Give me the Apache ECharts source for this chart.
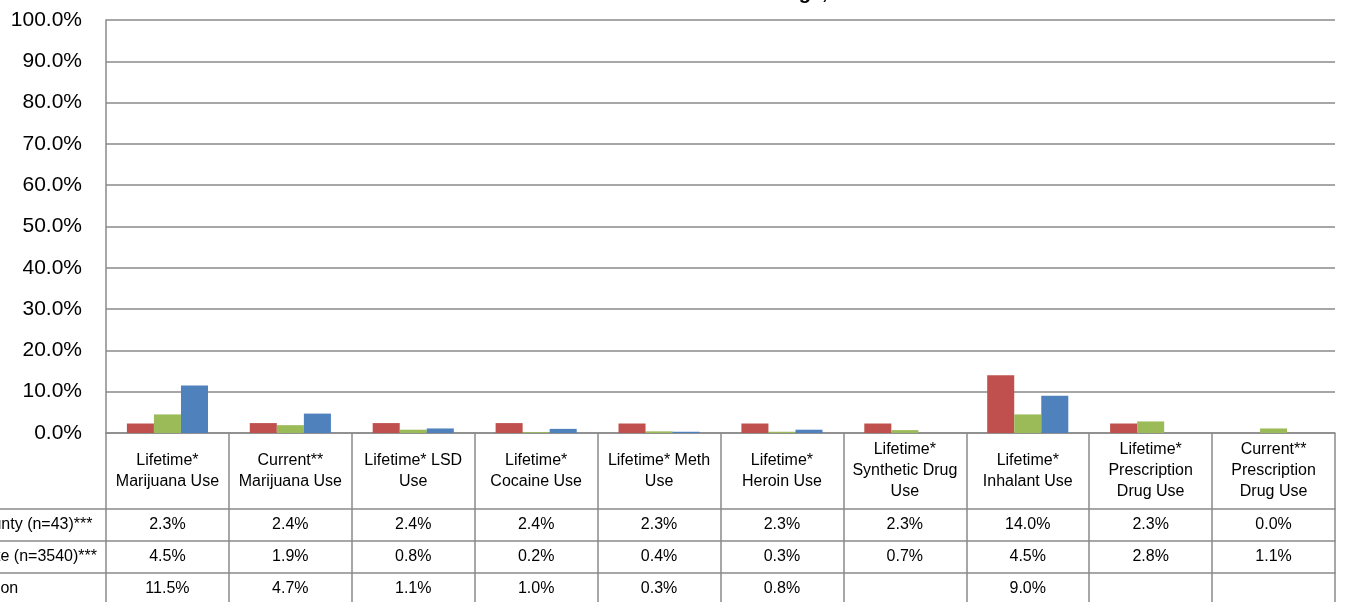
<!DOCTYPE html>
<html>
<head>
<meta charset="utf-8">
<script src="https://cdn.jsdelivr.net/npm/echarts@6/dist/echarts.min.js"></script>
<style>
html,body{margin:0;padding:0;background:#fff;}
#chart{width:1351px;height:602px;}
</style>
</head>
<body>
<div id="chart"></div>
<script>
const categories = [
  "Lifetime*\nMarijuana Use",
  "Current**\nMarijuana Use",
  "Lifetime* LSD\nUse",
  "Lifetime*\nCocaine Use",
  "Lifetime* Meth\nUse",
  "Lifetime*\nHeroin Use",
  "Lifetime*\nSynthetic Drug\nUse",
  "Lifetime*\nInhalant Use",
  "Lifetime*\nPrescription\nDrug Use",
  "Current**\nPrescription\nDrug Use"
];
const seriesNames = ["County (n=43)***", "State (n=3540)***", "Nation"];
const countyValues = [2.3, 2.4, 2.4, 2.4, 2.3, 2.3, 2.3, 14.0, 2.3, 0.0];
const stateValues  = [4.5, 1.9, 0.8, 0.2, 0.4, 0.3, 0.7, 4.5, 2.8, 1.1];
const nationValues = [11.5, 4.7, 1.1, 1.0, 0.3, 0.8, null, 9.0, null, null];
const seriesColors = ["#C0504D", "#9BBB59", "#4F81BD"];
const titleLeft = "Lifetime and Current Use of Drug";
const titleRight = "s, State and Nation";

const rows = [countyValues, stateValues, nationValues];
const FONT = "'Liberation Sans', Arial, sans-serif";
const lineColor = "#8a8a8a";
const lw = 1.5;
const gridLeft = 106, gridRight = 16, gridTop = 20, gridBottom = 169;
const headerH = 76, rowH = 32;
const W = 1351, H = 602;

const chart = echarts.init(document.getElementById('chart'), null, {renderer: 'canvas'});

function fmt(v) { return (v === null || v === undefined) ? '' : v.toFixed(1) + '%'; }

const baseX = {
  type: 'category', data: categories, gridIndex: 0, position: 'bottom',
  axisLine: {show: true, onZero: false, lineStyle: {color: lineColor, width: lw}},
  splitLine: {show: false}
};

const xAxes = [Object.assign({}, baseX, {
  axisTick: {show: true, interval: 0, length: headerH, lineStyle: {color: lineColor, width: lw}},
  axisLabel: {interval: 0, margin: headerH / 2, verticalAlign: 'middle', lineHeight: 21,
              fontSize: 16, color: '#000', fontFamily: FONT}
})];
rows.forEach((r, i) => {
  xAxes.push(Object.assign({}, baseX, {
    offset: headerH + i * rowH,
    axisTick: {show: true, interval: 0, length: rowH, lineStyle: {color: lineColor, width: lw}},
    axisLabel: {interval: 0, margin: rowH / 2, verticalAlign: 'middle', fontSize: 16,
                color: '#000', fontFamily: FONT,
                formatter: (v, idx) => fmt(r[idx])}
  }));
});

const graphics = [];
rows.forEach((r, i) => {
  const y = H - gridBottom + headerH + i * rowH;
  graphics.push({type: 'line', shape: {x1: 0, y1: y, x2: gridLeft, y2: y},
                 style: {stroke: lineColor, lineWidth: lw}, silent: true});
  graphics.push({type: 'text', x: -28, y: y + rowH / 2,
                 style: {text: seriesNames[i], fontSize: 16, fontFamily: FONT, fill: '#000',
                         textAlign: 'left', textVerticalAlign: 'middle'}, silent: true});
});
graphics.push({type: 'text', x: 811, y: 3,
  style: {text: titleLeft, fontSize: 20, fontWeight: 'bold', fontFamily: FONT, fill: '#000',
          textAlign: 'right', textVerticalAlign: 'bottom'}});
graphics.push({type: 'text', x: 811, y: 3,
  style: {text: titleRight, fontSize: 20, fontWeight: 'bold', fontFamily: FONT, fill: '#000',
          textAlign: 'left', textVerticalAlign: 'bottom'}});

const option = {
  animation: false,
  backgroundColor: '#fff',
  grid: {left: gridLeft, right: gridRight, top: gridTop, bottom: gridBottom, containLabel: false},
  xAxis: xAxes,
  yAxis: {
    type: 'value', min: 0, max: 100, interval: 10,
    axisLine: {show: true, lineStyle: {color: lineColor, width: lw}},
    axisTick: {show: false},
    splitLine: {show: true, lineStyle: {color: lineColor, width: lw}},
    axisLabel: {margin: 24, fontSize: 21, color: '#000', fontFamily: FONT,
                formatter: v => v.toFixed(1) + '%'}
  },
  series: rows.map((r, i) => ({
    name: seriesNames[i], type: 'bar', xAxisIndex: 0, yAxisIndex: 0,
    data: r, barGap: '0%', barCategoryGap: '34%',
    itemStyle: {color: seriesColors[i]}
  })),
  graphic: graphics
};
chart.setOption(option);
</script>
</body>
</html>
